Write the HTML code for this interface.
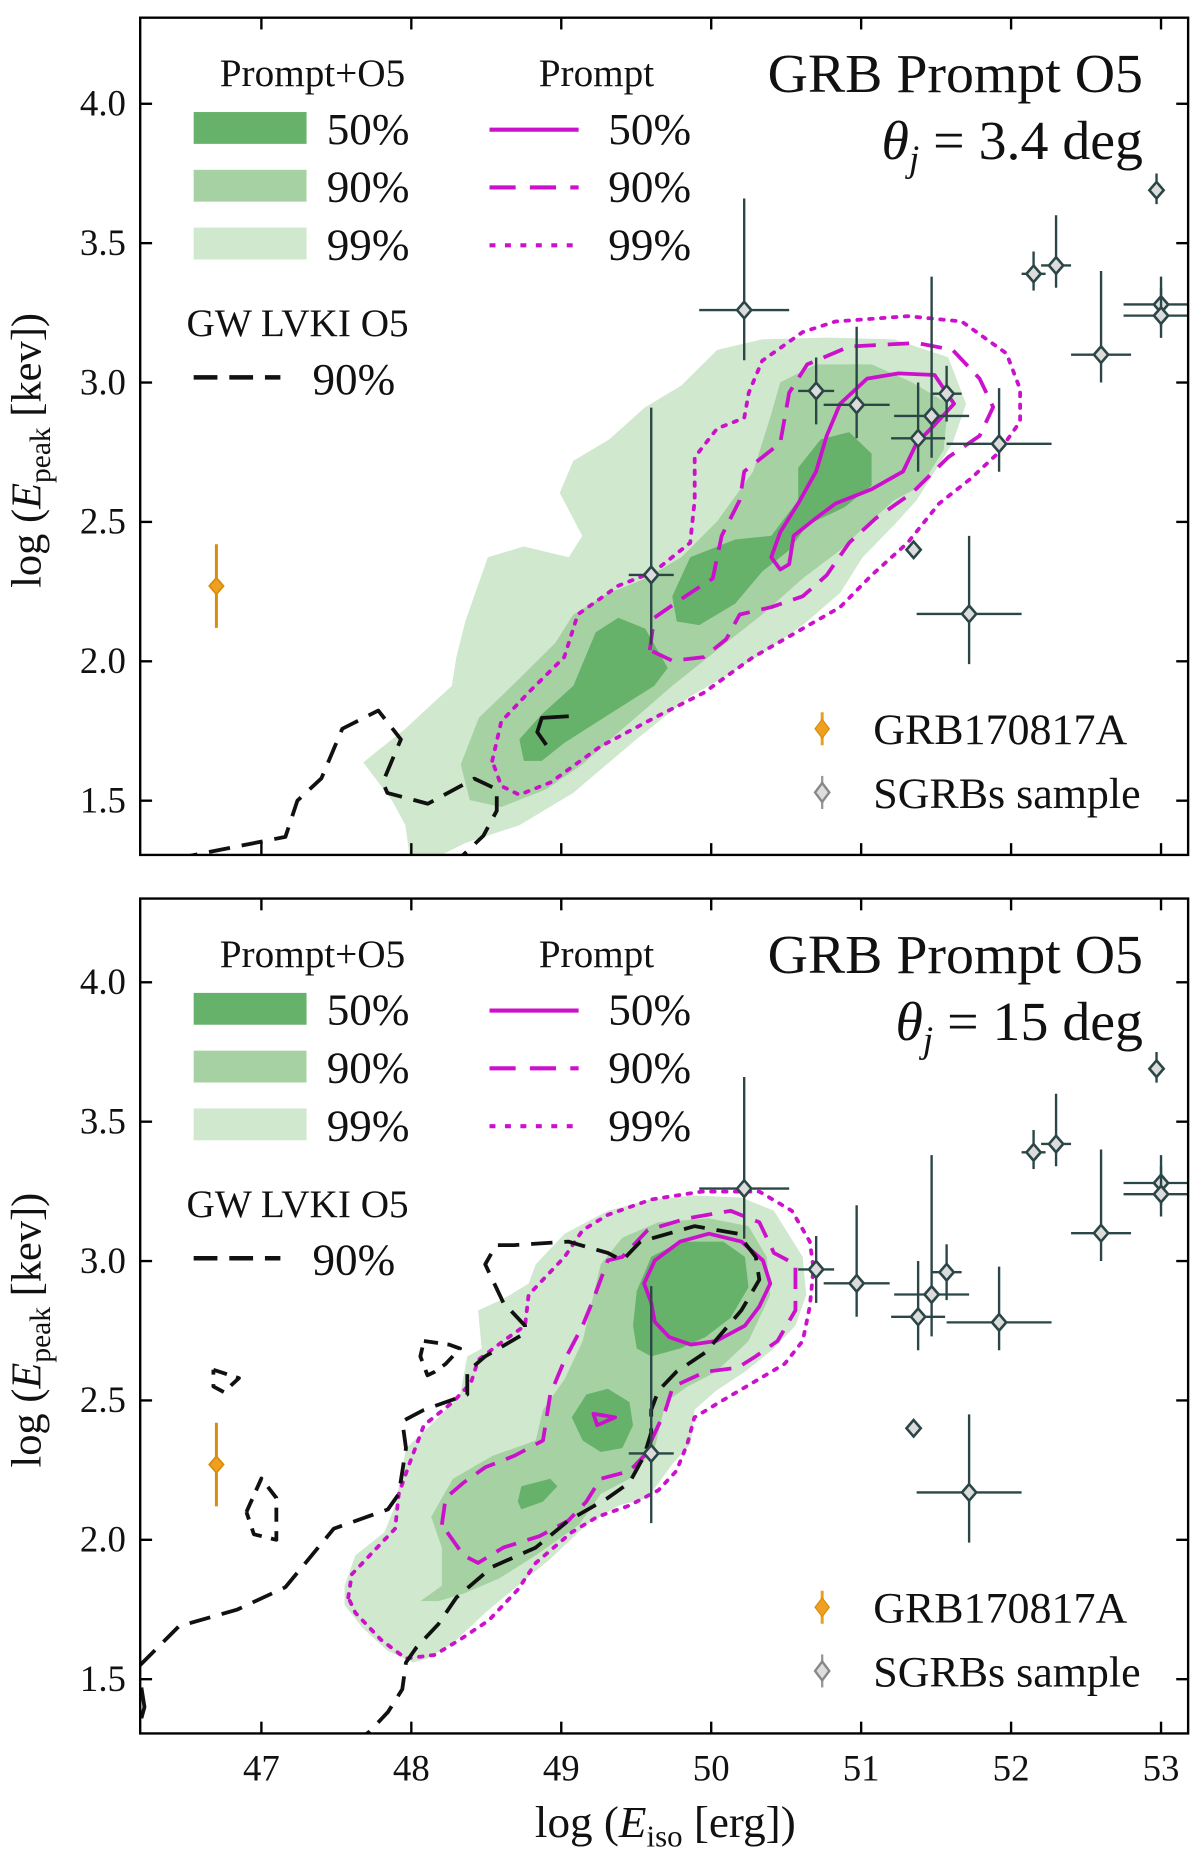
<!DOCTYPE html>
<html><head><meta charset="utf-8"><style>
html,body{margin:0;padding:0;background:#fff}
svg{display:block;font-family:"Liberation Serif","DejaVu Serif",serif}
</style></head><body>
<svg id="chart" width="1200" height="1849" viewBox="0 0 1010 1568" preserveAspectRatio="none" xmlns="http://www.w3.org/2000/svg"></svg>
<script>
// ---------- data ----------
const xTicks = [47,48,49,50,51,52,53];
const yTicks = [1.5,2.0,2.5,3.0,3.5,4.0];
const sgrbX = [50.22,50.70,50.97,51.38,51.47,51.57,51.92,51.35,51.72,49.60,52.15,52.30,52.60,52.97,53.00,53.00];
const sgrbY = [3.26,2.97,2.92,2.80,2.88,2.96,2.78,2.40,2.17,2.31,3.39,3.42,3.10,3.69,3.28,3.24];
const sgrbXerr = [0.30,0.12,0.22,0.18,0.25,0.10,0.35,0.03,0.35,0.15,0.08,0.10,0.20,0.05,0.25,0.25];
const sgrbYerrUp = [0.40,0.12,0.28,0.20,0.50,0.10,0.20,0.02,0.28,0.60,0.08,0.18,0.30,0.06,0.10,0.10];
const sgrbYerrDn = [0.18,0.12,0.12,0.12,0.15,0.10,0.10,0.02,0.18,0.25,0.06,0.08,0.10,0.05,0.08,0.08];
const grbX = [46.70], grbY = [2.27], grbYerr = [0.15];

const top99 = [[47.68,1.637],[47.78,1.681],[47.96,1.758],[48.14,1.848],[48.27,1.912],[48.30,2.015],[48.36,2.143],[48.51,2.373],[48.75,2.412],[49.05,2.373],[49.14,2.450],[48.99,2.604],[49.08,2.719],[49.32,2.796],[49.56,2.912],[49.80,2.989],[50.04,3.117],[50.34,3.155],[50.77,3.161],[51.22,3.155],[51.58,3.091],[51.70,2.924],[51.61,2.783],[51.37,2.578],[51.22,2.489],[51.01,2.373],[50.86,2.245],[50.61,2.130],[50.34,2.027],[50.07,1.938],[49.86,1.874],[49.50,1.720],[49.08,1.528],[48.72,1.412],[48.36,1.348],[48.17,1.297],[47.99,1.297],[47.96,1.412],[47.87,1.502]];
const top90 = [[48.33,1.630],[48.45,1.797],[48.72,1.938],[48.96,2.066],[49.08,2.168],[49.32,2.245],[49.56,2.297],[49.80,2.373],[50.04,2.502],[50.28,2.681],[50.40,2.886],[50.46,3.001],[50.70,3.065],[51.07,3.065],[51.34,3.001],[51.58,2.924],[51.55,2.758],[51.40,2.630],[51.22,2.578],[51.01,2.476],[50.86,2.399],[50.61,2.297],[50.34,2.168],[50.10,2.066],[49.92,1.989],[49.74,1.912],[49.41,1.758],[49.14,1.630],[48.90,1.541],[48.60,1.477],[48.39,1.502]];
const top50a = [[48.72,1.720],[48.87,1.810],[49.08,1.912],[49.23,2.104],[49.38,2.156],[49.56,2.117],[49.71,1.976],[49.62,1.912],[49.32,1.810],[49.02,1.707],[48.87,1.643],[48.75,1.643]];
const top50b = [[49.74,2.233],[49.86,2.373],[50.16,2.437],[50.40,2.450],[50.58,2.578],[50.58,2.694],[50.73,2.796],[50.92,2.822],[51.07,2.745],[51.07,2.630],[50.89,2.553],[50.64,2.489],[50.52,2.399],[50.34,2.322],[50.16,2.207],[49.92,2.130],[49.77,2.143]];
const topP50 = [[50.40,2.373],[50.46,2.463],[50.58,2.566],[50.70,2.681],[50.77,2.809],[50.86,2.924],[51.04,3.014],[51.25,3.033],[51.49,3.027],[51.62,2.924],[51.49,2.848],[51.37,2.783],[51.28,2.681],[51.07,2.617],[50.83,2.566],[50.70,2.514],[50.55,2.450],[50.52,2.348],[50.46,2.329]];
const topP90 = [[49.59,2.040],[49.62,2.156],[49.86,2.245],[50.01,2.297],[50.07,2.450],[50.19,2.578],[50.22,2.681],[50.46,2.783],[50.52,2.963],[50.64,3.065],[50.92,3.129],[51.37,3.142],[51.61,3.117],[51.79,3.014],[51.88,2.912],[51.79,2.809],[51.58,2.732],[51.34,2.604],[51.10,2.514],[50.92,2.425],[50.77,2.309],[50.61,2.233],[50.40,2.194],[50.19,2.168],[50.10,2.079],[49.95,2.015],[49.74,2.002]];
const topP99 = [[48.54,1.643],[48.60,1.784],[48.78,1.887],[49.02,2.015],[49.11,2.168],[49.38,2.271],[49.62,2.322],[49.86,2.425],[49.89,2.578],[49.89,2.732],[50.04,2.835],[50.22,2.873],[50.25,2.963],[50.34,3.078],[50.61,3.181],[50.83,3.219],[51.31,3.238],[51.67,3.219],[51.97,3.104],[52.06,2.976],[52.06,2.860],[51.91,2.745],[51.73,2.655],[51.52,2.566],[51.31,2.425],[51.07,2.309],[50.86,2.194],[50.61,2.117],[50.28,2.015],[49.95,1.887],[49.62,1.797],[49.26,1.694],[48.93,1.566],[48.72,1.521],[48.60,1.553]];
const topGW = [[46.21,1.30],[46.50,1.30],[47.16,1.37],[47.24,1.50],[47.40,1.58],[47.54,1.758],[47.78,1.823],[47.93,1.720],[47.81,1.566],[47.84,1.528],[48.11,1.489],[48.42,1.579],[48.57,1.541],[48.57,1.464],[48.48,1.374],[48.33,1.297]];
const topGW2 = [[48.90,1.70],[48.84,1.746],[48.87,1.797],[49.05,1.803]];

const bot99 = [[47.555,1.835],[47.627,1.944],[47.820,2.027],[47.892,2.123],[47.964,2.329],[48.156,2.425],[48.325,2.521],[48.373,2.658],[48.469,2.686],[48.445,2.823],[48.613,2.864],[48.782,2.919],[48.830,2.988],[49.022,3.098],[49.311,3.180],[49.600,3.221],[49.888,3.235],[50.201,3.228],[50.418,3.180],[50.610,3.015],[50.634,2.878],[50.562,2.768],[50.418,2.686],[50.225,2.603],[50.033,2.535],[49.888,2.466],[49.864,2.343],[49.744,2.274],[49.576,2.150],[49.383,2.123],[49.167,2.054],[48.926,1.931],[48.710,1.835],[48.493,1.738],[48.277,1.629],[48.108,1.574],[48.012,1.560],[47.844,1.601],[47.675,1.684],[47.555,1.766]];
const bot90 = [[48.060,1.780],[48.204,1.835],[48.204,1.972],[48.132,2.082],[48.277,2.219],[48.541,2.301],[48.830,2.356],[48.878,2.466],[49.022,2.576],[49.143,2.713],[49.263,2.988],[49.407,3.084],[49.648,3.139],[49.985,3.153],[50.249,3.125],[50.370,3.015],[50.394,2.878],[50.249,2.713],[50.033,2.603],[49.840,2.549],[49.696,2.494],[49.624,2.329],[49.455,2.219],[49.263,2.164],[49.119,2.054],[48.830,1.944],[48.589,1.862],[48.349,1.807],[48.180,1.780]];
const bot50a = [[49.479,2.768],[49.503,2.892],[49.600,3.015],[49.792,3.070],[50.081,3.070],[50.225,3.015],[50.249,2.906],[50.129,2.796],[49.961,2.727],[49.792,2.686],[49.600,2.658],[49.503,2.686]];
const bot50b = [[49.070,2.439],[49.167,2.521],[49.311,2.542],[49.455,2.494],[49.479,2.411],[49.407,2.329],[49.263,2.315],[49.143,2.356]];
const bot50c = [[48.734,2.192],[48.926,2.219],[48.974,2.192],[48.878,2.137],[48.734,2.109],[48.710,2.137]];
const botP50 = [[49.552,2.919],[49.624,3.002],[49.792,3.070],[49.985,3.098],[50.201,3.070],[50.345,3.002],[50.394,2.919],[50.321,2.837],[50.225,2.768],[50.033,2.713],[49.864,2.700],[49.720,2.727],[49.624,2.782],[49.600,2.851]];
const botP50b = [[49.215,2.452],[49.359,2.439],[49.239,2.411]];
const botP90 = [[48.204,2.054],[48.229,2.150],[48.349,2.205],[48.493,2.260],[48.686,2.301],[48.878,2.356],[48.926,2.521],[49.022,2.645],[49.143,2.768],[49.215,2.864],[49.311,3.002],[49.407,3.015],[49.576,3.111],[49.840,3.153],[50.129,3.180],[50.321,3.139],[50.418,3.029],[50.562,2.988],[50.562,2.823],[50.442,2.713],[50.297,2.658],[50.177,2.617],[49.961,2.603],[49.744,2.549],[49.696,2.466],[49.648,2.411],[49.552,2.301],[49.455,2.246],[49.263,2.219],[49.167,2.137],[49.046,2.068],[48.854,2.013],[48.613,1.972],[48.445,1.917],[48.349,1.944]];
const botP99 = [[47.579,1.793],[47.603,1.876],[47.723,1.944],[47.892,2.040],[47.916,2.164],[47.988,2.274],[48.084,2.411],[48.277,2.494],[48.397,2.562],[48.445,2.645],[48.613,2.713],[48.758,2.768],[48.782,2.878],[48.878,2.933],[49.022,3.015],[49.143,3.111],[49.311,3.166],[49.600,3.221],[49.936,3.249],[50.321,3.249],[50.538,3.180],[50.658,3.070],[50.682,2.974],[50.658,2.837],[50.610,2.713],[50.490,2.631],[50.273,2.562],[50.057,2.494],[49.888,2.439],[49.840,2.343],[49.768,2.247],[49.648,2.178],[49.455,2.123],[49.239,2.082],[49.070,2.027],[48.830,1.917],[48.710,1.821],[48.517,1.711],[48.325,1.642],[48.156,1.587],[47.964,1.574],[47.796,1.642],[47.627,1.738]];
const botGW = [[46.19,1.55],[46.45,1.69],[46.84,1.75],[47.16,1.83],[47.483,2.040],[47.844,2.109],[47.916,2.164],[47.964,2.329],[47.940,2.425],[48.084,2.466],[48.373,2.521],[48.373,2.603],[48.493,2.658],[48.758,2.741],[48.758,2.768],[48.613,2.851],[48.493,2.988],[48.565,3.057],[48.686,3.057],[49.046,3.070],[49.311,3.029],[49.407,3.002],[49.528,3.070],[49.888,3.125],[50.177,3.098],[50.297,3.015],[50.321,2.933],[50.201,2.823],[49.961,2.672],[49.768,2.603],[49.648,2.535],[49.600,2.466],[49.600,2.384],[49.552,2.301],[49.455,2.205],[49.311,2.150],[49.046,2.068],[48.830,1.972],[48.541,1.903],[48.301,1.793],[48.180,1.697],[48.036,1.615],[47.964,1.560],[47.940,1.464],[47.844,1.382],[47.723,1.313],[47.65,1.28]];
const botGWl1 = [[46.68,2.61],[46.85,2.58],[46.75,2.53],[46.68,2.55],[46.68,2.61]];
const botGWl2 = [[46.90,2.10],[47.00,2.22],[47.10,2.15],[47.10,2.00],[46.95,2.02],[46.90,2.10]];
const botGWl3 = [[48.084,2.713],[48.253,2.700],[48.325,2.686],[48.229,2.631],[48.156,2.603],[48.108,2.590],[48.060,2.658],[48.084,2.713]];
const botGWl4 = [[46.20,1.47],[46.22,1.40],[46.20,1.36]];

// ---------- helpers ----------
const NS = "http://www.w3.org/2000/svg";
const svg = document.getElementById('chart');
const X0 = 118, X1 = 1000;
function xs(v){ return 220 + (v - 47) * 126.2; }
function mk(tag, attrs, parent){ const e = document.createElementNS(NS, tag); for (const k in attrs) e.setAttribute(k, attrs[k]); (parent||svg).appendChild(e); return e; }
function txt(s, x, y, size, anchor, parent){ const t = mk('text', {x:x, y:y, 'font-size':size, 'text-anchor':anchor||'start', fill:'#111'}, parent); t.textContent = s; return t; }

function panel(name, yTop, yBot, y4px, contours, title2){
  const g = mk('g', {}, svg);
  
  
  const ys = v => y4px + (4 - v) * 236.4;
  const clipId = name + '-clip';
  const cp = mk('clipPath', {id: clipId}, g); mk('rect', {x:X0, y:yTop, width:X1-X0, height:yBot-yTop}, cp);
  const plot = mk('g', {'clip-path':'url(#'+clipId+')'}, g);
  const pts = arr => arr.map(p => xs(p[0]).toFixed(1)+','+ys(p[1]).toFixed(1)).join(' ');
  contours.forEach(c => {
    const el = c.closed ? mk('polygon', {points: pts(c.d)}, plot) : mk('polyline', {points: pts(c.d)}, plot);
    
    
    if (c.fill) { el.setAttribute('fill', c.fill); el.setAttribute('stroke', 'none'); }
    else { el.setAttribute('fill', 'none'); el.setAttribute('stroke', c.stroke); el.setAttribute('stroke-width', 3.2); el.setAttribute('stroke-linejoin','round'); if (c.dash) el.setAttribute('stroke-dasharray', c.dash); if (c.cap) el.setAttribute('stroke-linecap', c.cap); }
  });
  for (let i = 0; i < sgrbX.length; i++) {
    const cx = xs(sgrbX[i]), cy = ys(sgrbY[i]);
    const pg = mk('g', {}, plot);
    
    
    mk('line', {x1: xs(sgrbX[i]-sgrbXerr[i]), x2: xs(sgrbX[i]+sgrbXerr[i]), y1: cy, y2: cy, stroke:'#2b4646', 'stroke-width':2}, pg);
    mk('line', {x1: cx, x2: cx, y1: ys(sgrbY[i]+sgrbYerrUp[i]), y2: ys(sgrbY[i]-sgrbYerrDn[i]), stroke:'#2b4646', 'stroke-width':2}, pg);
    mk('polygon', {points: `${cx},${cy-7} ${cx+6},${cy} ${cx},${cy+7} ${cx-6},${cy}`, fill:'#dcdcdc', stroke:'#2b4646', 'stroke-width':2.2}, pg);
  }
  for (let i = 0; i < grbX.length; i++) {
    const cx = xs(grbX[i]), cy = ys(grbY[i]);
    const pg = mk('g', {}, plot);
    
    
    mk('line', {x1: cx, x2: cx, y1: ys(grbY[i]+grbYerr[i]), y2: ys(grbY[i]-grbYerr[i]), stroke:'#d98c0a', 'stroke-width':2.5}, pg);
    mk('polygon', {points: `${cx},${cy-7} ${cx+6},${cy} ${cx},${cy+7} ${cx-6},${cy}`, fill:'#f0a020', stroke:'#d98c0a', 'stroke-width':1.5}, pg);
  }
  const fr = mk('rect', {x:X0, y:yTop, width:X1-X0, height:yBot-yTop, fill:'none', stroke:'#000', 'stroke-width':2}, g);
   
  xTicks.forEach(t => { const x = xs(t); mk('line',{x1:x,x2:x,y1:yBot,y2:yBot-10,stroke:'#000','stroke-width':2},g); mk('line',{x1:x,x2:x,y1:yTop,y2:yTop+10,stroke:'#000','stroke-width':2},g); });
  yTicks.forEach(t => { const y = ys(t); mk('line',{x1:X0,x2:X0+10,y1:y,y2:y,stroke:'#000','stroke-width':2},g); mk('line',{x1:X1,x2:X1-10,y1:y,y2:y,stroke:'#000','stroke-width':2},g);
    const l = txt(t.toFixed(1), 106, y+10, 31, 'end', g);   });
  const yl = mk('text', {transform:`translate(34,${(yTop+yBot)/2+12}) rotate(-90)`, 'font-size':36, 'text-anchor':'middle', fill:'#111'}, g);
   
  yl.innerHTML = 'log (<tspan font-style="italic">E</tspan><tspan font-size="25" dy="8">peak</tspan><tspan dy="-8"> [kev])</tspan>';
  const o = yTop;
  const lg = mk('g', {}, g);  
  txt('Prompt+O5', 263, o+58, 33, 'middle', lg);
  txt('Prompt', 502, o+58, 33, 'middle', lg);
  const fills = ['#66b26a','#a6d2a3','#d0e8cd'], labs = ['50%','90%','99%'], dashes = [null,'22,12','5,8'];
  for (let i=0;i<3;i++){
    const yy = o + 82 + i*49;
    mk('rect',{x:163,y:yy-2,width:95,height:27,fill:fills[i]},lg);
    txt(labs[i], 275, yy+25, 38, 'start', lg);
    const ln = mk('line',{x1:412,x2:487,y1:yy+13,y2:yy+13,stroke:'#cc11cc','stroke-width':3.5},lg);
    if (dashes[i]) ln.setAttribute('stroke-dasharray', dashes[i]);
    txt(labs[i], 512, yy+25, 38, 'start', lg);
  }
  txt('GW LVKI O5', 157, o+270, 33, 'start', lg);
  mk('line',{x1:163,x2:236,y1:o+305,y2:o+305,stroke:'#111','stroke-width':3.8,'stroke-dasharray':'20,10'},lg);
  txt('90%', 263, o+319, 38, 'start', lg);
  const tt = txt('GRB Prompt O5', 962, o+63, 47, 'end', g);  
  const t2 = mk('text',{x:962,y:o+120,'font-size':47,'text-anchor':'end',fill:'#111'},g);
   
  t2.innerHTML = '<tspan font-style="italic">θ</tspan><tspan font-style="italic" font-size="31" dy="10">j</tspan><tspan dy="-10"> = '+title2+' deg</tspan>';
  const pl = mk('g', {}, g);  
  const ly1 = yBot - 107, ly2 = yBot - 53;
  mk('line',{x1:692,x2:692,y1:ly1-14,y2:ly1+14,stroke:'#e8a020','stroke-width':2.5},pl);
  mk('polygon',{points:`692,${ly1-8} 698,${ly1} 692,${ly1+8} 686,${ly1}`,fill:'#f0a020',stroke:'#d98c0a'},pl);
  txt('GRB170817A', 735, ly1+13, 37, 'start', pl);
  mk('line',{x1:692,x2:692,y1:ly2-14,y2:ly2+14,stroke:'#999','stroke-width':2},pl);
  mk('polygon',{points:`692,${ly2-8} 698,${ly2} 692,${ly2+8} 686,${ly2}`,fill:'#ddd',stroke:'#888','stroke-width':2},pl);
  txt('SGRBs sample', 735, ly2+13, 37, 'start', pl);
}

const G50='#66b26a', G90='#a6d2a3', G99='#d0e8cd', M='#cc11cc';
panel('top-panel', 15, 725, 88, [
  {name:'contour-99-fill', d:top99, closed:true, fill:G99},
  {name:'contour-90-fill', d:top90, closed:true, fill:G90},
  {name:'contour-50-fill', d:top50a, closed:true, fill:G50},
  {name:'contour-50-fill', d:top50b, closed:true, fill:G50},
  {name:'prompt-99-line', d:topP99, closed:true, stroke:M, dash:'3,7', cap:'round'},
  {name:'prompt-90-line', d:topP90, closed:true, stroke:M, dash:'18,10'},
  {name:'prompt-50-line', d:topP50, closed:true, stroke:M},
  {name:'gw-90-line', d:topGW, closed:false, stroke:'#111', dash:'18,10'},
  {name:'gw-90-line', d:topGW2, closed:false, stroke:'#111'}
], '3.4');
panel('bottom-panel', 762, 1470, 833, [
  {name:'contour-99-fill', d:bot99, closed:true, fill:G99},
  {name:'contour-90-fill', d:bot90, closed:true, fill:G90},
  {name:'contour-50-fill', d:bot50a, closed:true, fill:G50},
  {name:'contour-50-fill', d:bot50b, closed:true, fill:G50},
  {name:'contour-50-fill', d:bot50c, closed:true, fill:G50},
  {name:'prompt-99-line', d:botP99, closed:true, stroke:M, dash:'3,7', cap:'round'},
  {name:'prompt-90-line', d:botP90, closed:true, stroke:M, dash:'18,10'},
  {name:'prompt-50-line', d:botP50, closed:true, stroke:M},
  {name:'prompt-50-line', d:botP50b, closed:true, stroke:M},
  {name:'gw-90-line', d:botGW, closed:false, stroke:'#111', dash:'18,10'},
  {name:'gw-90-line', d:botGWl1, closed:false, stroke:'#111', dash:'12,8'},
  {name:'gw-90-line', d:botGWl2, closed:false, stroke:'#111', dash:'12,8'},
  {name:'gw-90-line', d:botGWl3, closed:false, stroke:'#111', dash:'12,8'},
  {name:'gw-90-line', d:botGWl4, closed:false, stroke:'#111'}
], '15');

xTicks.forEach(t => { const l = txt(String(t), xs(t), 1510, 31, 'middle');   });
const xl = mk('text',{x:560,y:1558,'font-size':38,'text-anchor':'middle',fill:'#111'});
 
xl.innerHTML = 'log (<tspan font-style="italic">E</tspan><tspan font-size="26" dy="8">iso</tspan><tspan dy="-8"> [erg])</tspan>';
</script>
</body></html>
